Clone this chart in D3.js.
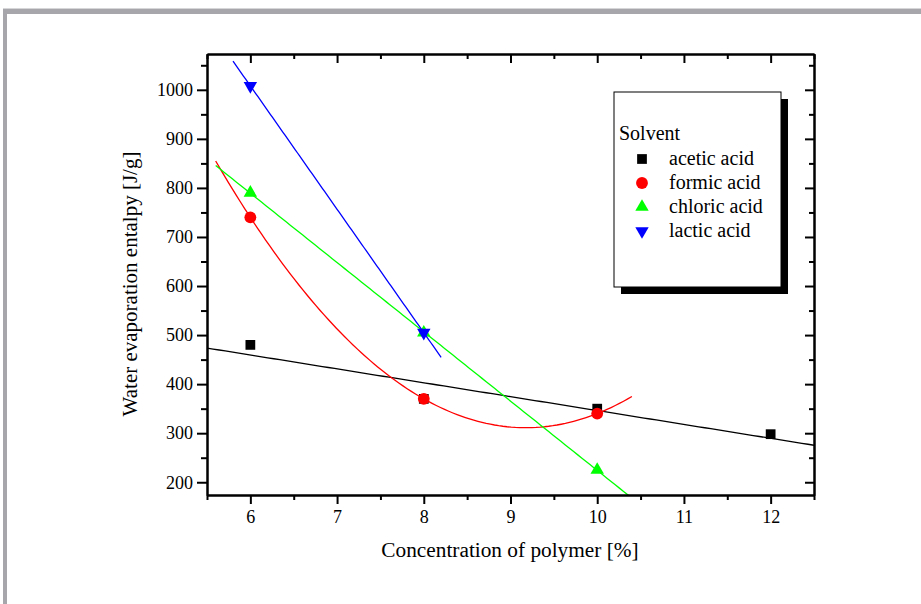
<!DOCTYPE html>
<html>
<head>
<meta charset="utf-8">
<script src="https://cdn.jsdelivr.net/npm/d3@7"></script>
<style>
  body { margin: 0; background: #fff; }
  svg { display: block; font-family: "Liberation Serif", "Times New Roman", serif; }
</style>
</head>
<body>
<svg id="chart"></svg>
<script>
// polymer concentration [%] for each measured sample
const concentration = [6, 8, 10, 12];
// water evaporation entalpy [J/g] per solvent
const aceticAcid = [480, 370, 350, 298];
const formicAcid = [740, 370, 340];
const chloricAcid = [790, 505, 225];
const lacticAcid = [1008, 505];
const solvents = ["acetic acid", "formic acid", "chloric acid", "lactic acid"];
const xTicks = [6, 7, 8, 9, 10, 11, 12];
const yTicks = [200, 300, 400, 500, 600, 700, 800, 900, 1000];
// x range over which each fitted curve is drawn, and its polynomial order
const fitRanges = [[5.5, 12.5], [5.6, 10.4], [5.6, 10.4], [5.8, 8.2]];
const fitOrders = [1, 2, 1, 1];

const width = 921, height = 604;
const margin = {left: 207, right: 107, top: 54, bottom: 109};

const svg = d3.select("#chart")
    .attr("width", width)
    .attr("height", height);

// grey window frame
svg.append("rect").attr("x", 3).attr("y", 8).attr("width", width).attr("height", 1).attr("fill", "#d6d6d8");
svg.append("rect").attr("x", 3).attr("y", 9).attr("width", width).attr("height", 5).attr("fill", "#a7a7ab");
svg.append("rect").attr("x", 3).attr("y", 9).attr("width", 4).attr("height", height).attr("fill", "#a7a7ab");

const x = d3.scaleLinear().domain([5.5, 12.5]).range([margin.left, width - margin.right]);
const y = d3.scaleLinear().domain([174, 1073]).range([height - margin.bottom, margin.top]);

const series = [
    {name: solvents[0], values: aceticAcid, color: "#000000", symbol: d3.symbolSquare, size: 95, rotate: 0},
    {name: solvents[1], values: formicAcid, color: "#ff0000", symbol: d3.symbolCircle, size: 110, rotate: 0},
    {name: solvents[2], values: chloricAcid, color: "#00ff00", symbol: d3.symbolTriangle, size: 78, rotate: 0},
    {name: solvents[3], values: lacticAcid, color: "#0000ff", symbol: d3.symbolTriangle, size: 78, rotate: 180}
];

// least squares polynomial fit, solved with the normal equations
function polyFit(xs, ys, order) {
    const n = order + 1;
    const A = d3.range(n).map(i => d3.range(n).map(j => d3.sum(xs, v => Math.pow(v, i + j))));
    const b = d3.range(n).map(i => d3.sum(xs, (v, k) => Math.pow(v, i) * ys[k]));
    for (let c = 0; c < n; c++) {
        for (let r = c + 1; r < n; r++) {
            const f = A[r][c] / A[c][c];
            for (let k = c; k < n; k++) A[r][k] -= f * A[c][k];
            b[r] -= f * b[c];
        }
    }
    const coef = new Array(n).fill(0);
    for (let r = n - 1; r >= 0; r--) {
        let s = b[r];
        for (let k = r + 1; k < n; k++) s -= A[r][k] * coef[k];
        coef[r] = s / A[r][r];
    }
    return t => d3.sum(coef, (c, i) => c * Math.pow(t, i));
}

svg.append("clipPath").attr("id", "plot-clip")
    .append("rect")
    .attr("x", margin.left).attr("y", margin.top)
    .attr("width", width - margin.left - margin.right)
    .attr("height", height - margin.top - margin.bottom);

const plot = svg.append("g");

series.forEach((s, i) => {
    const xs = concentration.slice(0, s.values.length);
    const f = polyFit(xs, s.values, fitOrders[i]);
    const [a, b] = fitRanges[i];
    const pts = d3.range(0, 101).map(k => a + (b - a) * k / 100);
    plot.append("path")
        .datum(pts)
        .attr("clip-path", "url(#plot-clip)")
        .attr("fill", "none")
        .attr("stroke", s.color)
        .attr("stroke-width", 1.3)
        .attr("d", d3.line().x(t => x(t)).y(t => y(f(t))));

    plot.selectAll(null)
        .data(s.values)
        .join("path")
        .attr("transform", (d, k) => `translate(${x(xs[k])},${y(d)}) rotate(${s.rotate})`)
        .attr("fill", s.color)
        .attr("d", d3.symbol().type(s.symbol).size(s.size));
});

// axes
const fontSize = "18px";
const xMinor = d3.range(5.5, 12.51, 1);
const yMinor = d3.range(250, 1051, 100);

function styleAxis(g) {
    g.selectAll("path, line").attr("stroke", "#000").attr("stroke-width", 2);
    g.selectAll("text").attr("fill", "#000").style("font-size", fontSize).style("font-family", "Liberation Serif");
}

const bottom = height - margin.bottom, right = width - margin.right;

svg.append("g").attr("transform", `translate(0,${bottom})`)
    .call(d3.axisBottom(x).tickValues(xTicks).tickSize(9).tickSizeOuter(0).tickPadding(6).tickFormat(d3.format("d")))
    .call(styleAxis);
svg.append("g").attr("transform", `translate(0,${bottom})`)
    .call(d3.axisBottom(x).tickValues(xMinor).tickSize(5).tickSizeOuter(0).tickFormat(""))
    .call(styleAxis);

svg.append("g").attr("transform", `translate(0,${margin.top})`)
    .call(d3.axisBottom(x).tickValues(xTicks).tickSize(9).tickSizeOuter(0).tickFormat(""))
    .call(styleAxis);
svg.append("g").attr("transform", `translate(0,${margin.top})`)
    .call(d3.axisBottom(x).tickValues(xMinor).tickSize(5).tickSizeOuter(0).tickFormat(""))
    .call(styleAxis);

svg.append("g").attr("transform", `translate(${margin.left},0)`)
    .call(d3.axisLeft(y).tickValues(yTicks).tickSize(10).tickSizeOuter(0).tickPadding(4).tickFormat(d3.format("d")))
    .call(styleAxis);
svg.append("g").attr("transform", `translate(${margin.left},0)`)
    .call(d3.axisLeft(y).tickValues(yMinor).tickSize(6).tickSizeOuter(0).tickFormat(""))
    .call(styleAxis);

svg.append("g").attr("transform", `translate(${right},0)`)
    .call(d3.axisLeft(y).tickValues(yTicks).tickSize(9).tickSizeOuter(0).tickFormat(""))
    .call(styleAxis);
svg.append("g").attr("transform", `translate(${right},0)`)
    .call(d3.axisLeft(y).tickValues(yMinor).tickSize(5).tickSizeOuter(0).tickFormat(""))
    .call(styleAxis);

// axis titles
svg.append("text")
    .attr("x", 510)
    .attr("y", 557)
    .attr("text-anchor", "middle")
    .style("font-size", "21.3px")
    .text("Concentration of polymer [%]");

svg.append("text")
    .attr("transform", "translate(137,284) rotate(-90)")
    .attr("text-anchor", "middle")
    .style("font-size", "21px")
    .text("Water evaporation entalpy [J/g]");

// legend with drop shadow
const legend = svg.append("g").attr("transform", "translate(614,92)");
const LEGEND_W = 167, LEGEND_H = 195, SHADOW = 7;
legend.append("rect")
    .attr("x", SHADOW).attr("y", SHADOW)
    .attr("width", LEGEND_W).attr("height", LEGEND_H)
    .attr("fill", "#000");
legend.append("rect")
    .attr("width", LEGEND_W).attr("height", LEGEND_H)
    .attr("fill", "#fff").attr("stroke", "#000").attr("stroke-width", 1);
legend.append("text")
    .attr("x", 5).attr("y", 48)
    .style("font-size", "20px")
    .text("Solvent");

const item = legend.selectAll("g.item")
    .data(series)
    .join("g")
    .attr("class", "item")
    .attr("transform", (d, i) => `translate(0,${67 + i * 24})`);
item.append("path")
    .attr("transform", d => `translate(28,0) rotate(${d.rotate})`)
    .attr("fill", d => d.color)
    .attr("d", d => d3.symbol().type(d.symbol).size(d.size)());
item.append("text")
    .attr("x", 55).attr("y", 6)
    .style("font-size", "20px")
    .text(d => d.name);
</script>
</body>
</html>
